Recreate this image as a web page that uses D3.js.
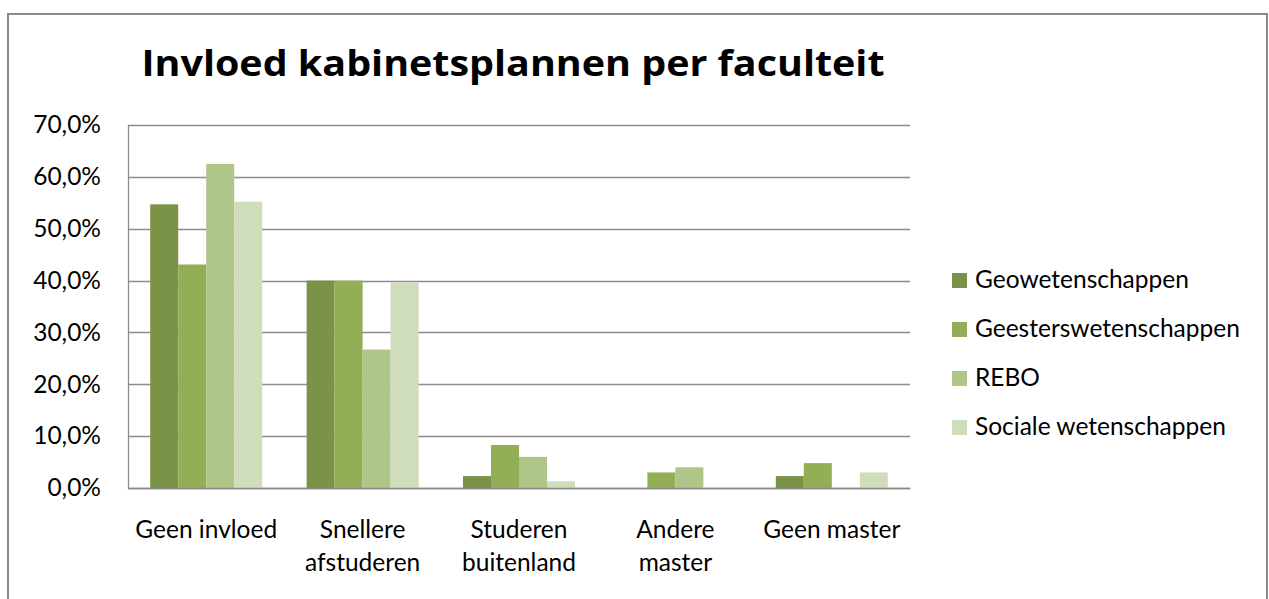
<!DOCTYPE html>
<html>
<head>
<meta charset="utf-8">
<script src="https://cdn.jsdelivr.net/npm/d3@7"></script>
<style>
  body { margin: 0; background: #fff; }
  svg { display: block; font-family: Lato, 'Open Sans', sans-serif; }
</style>
</head>
<body>
<div id="chart"></div>
<script>
// Data
const categories = [['Geen invloed'], ['Snellere', 'afstuderen'], ['Studeren', 'buitenland'], ['Andere', 'master'], ['Geen master']]
const series = ['Geowetenschappen', 'Geesterswetenschappen', 'REBO', 'Sociale wetenschappen']
const geo = [0.547, 0.400, 0.023, 0, 0.023]
const geest = [0.431, 0.400, 0.083, 0.030, 0.048]
const rebo = [0.625, 0.267, 0.060, 0.040, 0]
const sociale = [0.552, 0.396, 0.013, 0, 0.030]
const yTicks = [0, 0.1, 0.2, 0.3, 0.4, 0.5, 0.6, 0.7]
const colors = ['#7b9346', '#93af56', '#afc689', '#cfddba']

const values = [geo, geest, rebo, sociale]

// SVG Node
const width = 1269, height = 599
const svg = d3.select('#chart').append('svg')
    .attr('width', width)
    .attr('height', height)

// Presentation
const margin = { top: 125, right: 359, bottom: 111, left: 128 }
const chartWidth = width - margin.left - margin.right
const chartHeight = height - margin.top - margin.bottom

// outer frame
svg.append('rect')
    .attr('x', 8).attr('y', 14)
    .attr('width', 1259).attr('height', 600)
    .attr('fill', 'none')
    .attr('stroke', '#8a8a8a')
    .attr('stroke-width', 2)

svg.append('text')
    .attr('x', 513).attr('y', 76)
    .attr('text-anchor', 'middle')
    .style('font-family', "'Open Sans', sans-serif")
    .style('font-size', '36px')
    .style('font-weight', 'bold')
    .attr('textLength', 743)
    .attr('lengthAdjust', 'spacingAndGlyphs')
    .attr('fill', '#000')
    .text('Invloed kabinetsplannen per faculteit')

// Scale
const x = d3.scaleBand()
    .domain(d3.range(categories.length))
    .range([0, chartWidth])
    .paddingInner(0.284)
    .paddingOuter(0.142)
const xInner = d3.scaleBand()
    .domain(d3.range(series.length))
    .range([0, x.bandwidth()])
const y = d3.scaleLinear()
    .domain([0, 0.7])
    .range([chartHeight, 0])

const nl = d3.formatLocale({ decimal: ',', thousands: '.', grouping: [3], currency: ['€', ''] })
const pct = nl.format('.1%')

const g = svg.append('g')
    .attr('transform', `translate(${margin.left}, ${margin.top})`)

// Grid
const yAxis = d3.axisLeft(y).tickValues(yTicks).tickSize(0).tickPadding(27).tickFormat(pct)
const yg = g.append('g').call(yAxis)
yg.select('.domain').attr('stroke', '#8c8c8c').attr('stroke-width', 1.3)
yg.selectAll('text')
    .style('font-size', '24.5px')
    .style('font-family', 'Lato, sans-serif')
    .attr('fill', '#000')
g.append('g').selectAll('line')
    .data(yTicks)
    .join('line')
    .attr('x1', 0).attr('x2', chartWidth)
    .attr('y1', d => Math.round(y(d)) + 0.5).attr('y2', d => Math.round(y(d)) + 0.5)
    .attr('stroke', '#8c8c8c')
    .attr('stroke-width', 1.3)

// Bars
const groups = g.append('g').selectAll('g')
    .data(categories.map((c, i) => i))
    .join('g')
    .attr('transform', i => `translate(${x(i)},0)`)
groups.selectAll('rect')
    .data(i => values.map((v, s) => ({ s, v: v[i] })))
    .join('rect')
    .attr('x', d => xInner(d.s))
    .attr('width', xInner.bandwidth())
    .attr('y', d => y(d.v))
    .attr('height', d => chartHeight - y(d.v))
    .attr('fill', d => colors[d.s])

// Category labels
const xAxis = d3.axisBottom(x).tickSize(0).tickFormat('')
const xg = g.append('g').attr('transform', `translate(0, ${chartHeight})`).call(xAxis)
xg.select('.domain').attr('stroke', '#8c8c8c').attr('stroke-width', 1.3)
xg.selectAll('.tick').each(function(i) {
    const t = d3.select(this).append('text')
        .attr('fill', '#000')
        .attr('text-anchor', 'middle')
        .style('font-size', '24.5px')
        .style('font-family', 'Lato, sans-serif')
    categories[i].forEach((line, k) => {
        t.append('tspan').attr('x', 0).attr('y', 50 + k * 33).text(line)
    })
})

// Legend
const legend = svg.append('g').attr('transform', 'translate(952, 273)')
const items = legend.selectAll('g')
    .data(series)
    .join('g')
    .attr('transform', (d, i) => `translate(0, ${i * 49})`)
items.append('rect')
    .attr('width', 15).attr('height', 15)
    .attr('fill', (d, i) => colors[i])
items.append('text')
    .attr('x', 23).attr('y', 15)
    .style('font-size', '24.5px')
    .attr('fill', '#000')
    .text(d => d)
</script>
</body>
</html>
